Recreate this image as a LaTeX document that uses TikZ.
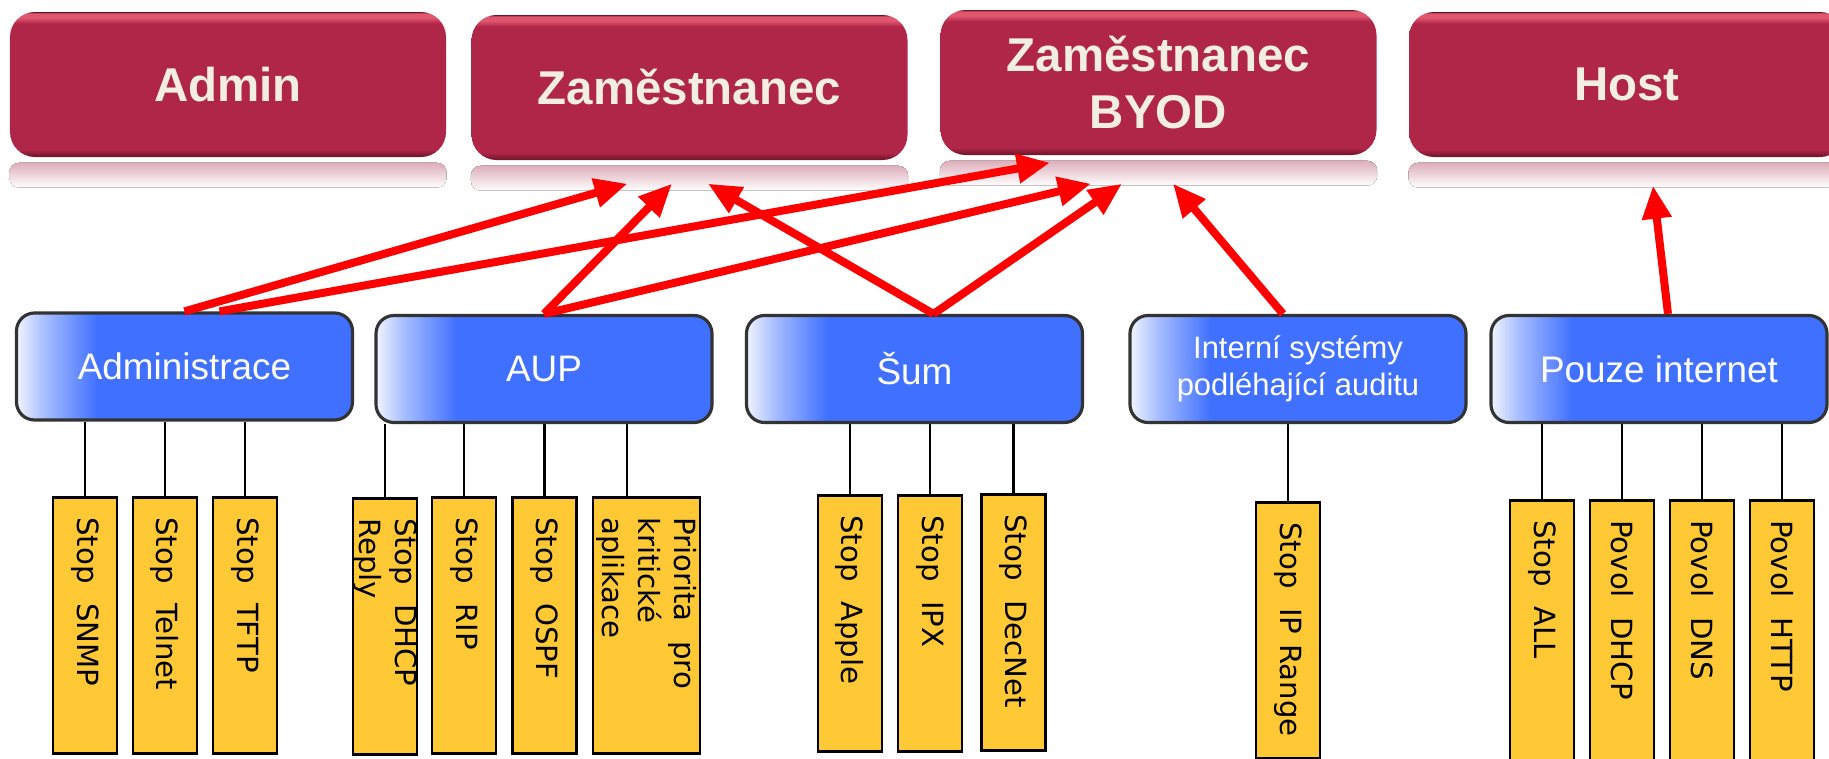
\documentclass[tikz,border=0pt]{standalone}
\usepackage{fontspec}
\setmainfont{Liberation Sans}
\newfontfamily\dejavu{DejaVu Sans}
\usetikzlibrary{arrows.meta}
\definecolor{rolered}{HTML}{B02648}
\definecolor{roledark}{HTML}{6A1428}
\definecolor{rolehigh}{HTML}{E0566E}
\definecolor{rolefont}{HTML}{F2EEE2}
\definecolor{grpblue}{HTML}{4070FF}
\definecolor{grplight}{HTML}{A9BFFF}
\definecolor{grpwhite}{HTML}{F2F5FF}
\definecolor{rulegold}{HTML}{FFC935}
\definecolor{reflpink}{HTML}{DDAEBA}
\pgfdeclareverticalshading{rolegloss}{100bp}{color(0bp)=(roledark); color(25bp)=(roledark); color(27.5bp)=(rolered); color(71bp)=(rolered); color(73bp)=(rolehigh); color(74.5bp)=(rolehigh); color(75bp)=(roledark); color(100bp)=(roledark)}
\pgfdeclarehorizontalshading{grpgloss}{100bp}{color(0bp)=(grpwhite); color(25bp)=(grpwhite); color(29bp)=(grplight); color(37bp)=(grpblue); color(100bp)=(grpblue)}
\begin{document}
\begin{tikzpicture}[role/.style={rounded corners=0.25cm,shade,shading=rolegloss,minimum width=4.36cm,minimum height=1.45cm,text=rolefont,align=center,font=\bfseries\fontsize{13.5}{16.2}\selectfont},
                    grp/.style={draw=black!80,line width=0.9pt,rounded corners=0.18cm,shade,shading=grpgloss,minimum width=3.36cm,minimum height=1.07cm,text=white,align=center,font=\fontsize{10.5}{12.6}\selectfont},
                    rule/.style={draw=black,line width=0.8pt,fill=rulegold,rotate=-90,anchor=west,minimum height=0.64cm,inner xsep=0.2cm,inner ysep=0pt,text width=2.16cm,align=left,font=\dejavu\fontsize{8.3}{10.2}\selectfont},
                    link/.style={draw=black,line width=0.7pt},
                    perm/.style={draw=red,line width=0.08cm,-{Triangle[length=0.33cm,width=0.28cm]}},
                    refl/.style={top color=reflpink,bottom color=white,rounded corners=0.1cm}]
                \useasboundingbox (0,0) rectangle (18.29,-7.59);
                \node[role](admin) at (2.28,-0.845){Admin};
                \node[role](zam) at (6.895,-0.875){Zaměstnanec};
                \node[role](byod) at (11.585,-0.825){Zaměstnanec\\BYOD};
                \node[role](host) at (16.27,-0.845){Host};
                \foreach \n in {admin,zam,byod,host}
                    \fill[refl] ([yshift=-0.05cm]\n.south west) rectangle ([yshift=-0.3cm]\n.south east);
                \node[grp](adm) at (1.845,-3.665){Administrace};
                \node[grp](aup) at (5.44,-3.69){AUP};
                \node[grp](sum) at (9.145,-3.69){Šum};
                \node[grp,font=\fontsize{8.8}{10.7}\selectfont](int) at (12.98,-3.69){Interní systémy\\podléhající auditu};
                \node[grp](pouze) at (16.59,-3.69){Pouze internet};
                \node[rule](snmp) at (0.85,-4.96){Stop~~SNMP};
                \node[rule](telnet) at (1.65,-4.96){Stop~~Telnet};
                \node[rule](tftp) at (2.45,-4.96){Stop~~TFTP};
                \node[rule](dhcpr) at (3.85,-4.97){Stop~~DHCP\\Reply};
                \node[rule](rip) at (4.64,-4.96){Stop~~RIP};
                \node[rule](ospf) at (5.445,-4.96){Stop~~OSPF};
                \node[rule,minimum height=1.07cm](prio) at (6.465,-4.96){Priorita~~pro\\kritické\\aplikace};
                \node[rule](apple) at (8.5,-4.94){Stop~~Apple};
                \node[rule](ipx) at (9.3,-4.94){Stop~~IPX};
                \node[rule](decnet) at (10.135,-4.93){Stop~~DecNet};
                \node[rule](iprange) at (12.88,-5.01){Stop~~IP Range};
                \node[rule,text width=2.4cm](all) at (15.42,-4.99){Stop~~ALL};
                \node[rule,text width=2.4cm](dhcp) at (16.22,-4.99){Povol~~DHCP};
                \node[rule,text width=2.4cm](dns) at (17.02,-4.99){Povol~~DNS};
                \node[rule,text width=2.4cm](http) at (17.82,-4.99){Povol~~HTTP};
                \foreach \r/\g in {snmp/adm,telnet/adm,tftp/adm,dhcpr/aup,rip/aup,ospf/aup,apple/sum,ipx/sum,decnet/sum,iprange/int,all/pouze,dhcp/pouze,dns/pouze,http/pouze}
                    \draw[link](\r.west) -- (\r.west |- \g.south);
                \path ([xshift=-0.195cm]prio.west) coordinate (prioin);
                \draw[link](prioin) -- (prioin |- aup.south);
                \draw[perm](adm.north) -- ([shift={(-0.62,-0.23)}]zam.south);
                \draw[perm]([xshift=0.35cm]adm.north) -- ([shift={(-1.085,-0.07)}]byod.south);
                \draw[perm](aup.north) -- ([shift={(-0.175,-0.23)}]zam.south);
                \draw[perm](aup.north) -- ([shift={(-0.675,-0.28)}]byod.south);
                \draw[perm]([xshift=0.19cm]sum.north) -- ([shift={(0.185,-0.23)}]zam.south);
                \draw[perm]([xshift=0.19cm]sum.north) -- ([shift={(-0.365,-0.28)}]byod.south);
                \draw[perm]([xshift=-0.15cm]int.north) -- ([shift={(0.145,-0.28)}]byod.south);
                \draw[perm]([xshift=0.09cm]pouze.north) -- ([shift={(0.26,-0.28)}]host.south);
            \end{tikzpicture}
\end{document}
